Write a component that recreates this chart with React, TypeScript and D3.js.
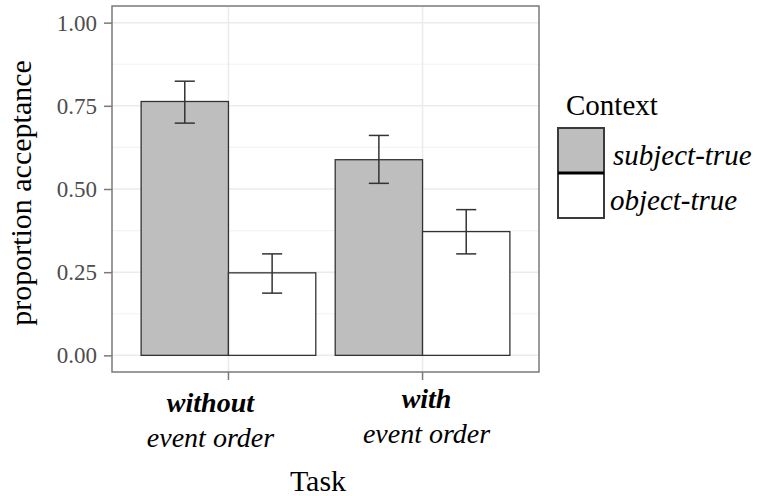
import { useEffect, useRef } from 'react';
import * as d3 from 'd3';

// chart data
const tasks = ['without', 'with'];
const taskSub = ['event order', 'event order'];
const contexts = ['subject-true', 'object-true'];
const acceptance = [
    [0.763, 0.248], // without: subject-true, object-true
    [0.588, 0.372], // with
];
const ciLow = [
    [0.698, 0.187],
    [0.517, 0.305],
];
const ciHigh = [
    [0.824, 0.305],
    [0.661, 0.438],
];
const yTicks = [0, 0.25, 0.5, 0.75, 1.0];
const yMinor = [0.125, 0.375, 0.625, 0.875];

const W = 757;
const H = 496;
const FONT = "'Liberation Serif', 'Times New Roman', serif";
const COLORS = {
    fill: ['#bebebe', '#ffffff'],
    stroke: '#333333',
    grid: '#ebebeb',
    border: '#7a7a7a',
    tick: '#4d4d4d',
    text: '#000000',
};

export default function App() {
    const svgRef = useRef<SVGSVGElement | null>(null);

    useEffect(() => {
        if (!svgRef.current) return;
        const svg = d3.select(svgRef.current);
        svg.selectAll('*').remove();

        const panel = { left: 112, right: 539, top: 6, bottom: 372 };

        const x = d3.scaleBand<string>()
            .domain(tasks)
            .range([panel.left, panel.right])
            .paddingInner(0)
            .paddingOuter(0.1);
        const groupW = x.bandwidth() * 0.9;
        const xSub = d3.scaleBand<string>().domain(contexts).range([0, groupW]);
        const y = d3.scaleLinear().domain([-0.05, 1.05]).range([panel.bottom, panel.top]);

        const g = svg.append('g');

        // panel background + grid
        g.append('rect')
            .attr('x', panel.left).attr('y', panel.top)
            .attr('width', panel.right - panel.left).attr('height', panel.bottom - panel.top)
            .attr('fill', '#fff');

        yMinor.forEach(v => {
            g.append('line')
                .attr('x1', panel.left).attr('x2', panel.right)
                .attr('y1', y(v)).attr('y2', y(v))
                .attr('stroke', '#f3f3f3').attr('stroke-width', 1.2);
        });
        yTicks.forEach(v => {
            g.append('line')
                .attr('x1', panel.left).attr('x2', panel.right)
                .attr('y1', y(v)).attr('y2', y(v))
                .attr('stroke', COLORS.grid).attr('stroke-width', 1.5);
        });
        tasks.forEach(t => {
            const cx = (x(t) as number) + x.bandwidth() / 2;
            g.append('line')
                .attr('x1', cx).attr('x2', cx)
                .attr('y1', panel.top).attr('y2', panel.bottom)
                .attr('stroke', COLORS.grid).attr('stroke-width', 1.5);
        });

        // bars
        tasks.forEach((t, i) => {
            const gx = (x(t) as number) + (x.bandwidth() - groupW) / 2;
            contexts.forEach((c, j) => {
                const bx = gx + (xSub(c) as number);
                g.append('rect')
                    .attr('x', bx).attr('y', y(acceptance[i][j]))
                    .attr('width', xSub.bandwidth())
                    .attr('height', y(0) - y(acceptance[i][j]))
                    .attr('fill', COLORS.fill[j])
                    .attr('stroke', COLORS.stroke)
                    .attr('stroke-width', 1.3);
            });
        });

        // error bars
        tasks.forEach((t, i) => {
            const gx = (x(t) as number) + (x.bandwidth() - groupW) / 2;
            contexts.forEach((c, j) => {
                const cx = gx + (xSub(c) as number) + xSub.bandwidth() / 2;
                const half = xSub.bandwidth() * 0.115;
                const eg = g.append('g')
                    .attr('stroke', COLORS.stroke)
                    .attr('stroke-width', 1.5);
                eg.append('line')
                    .attr('x1', cx).attr('x2', cx)
                    .attr('y1', y(ciLow[i][j])).attr('y2', y(ciHigh[i][j]));
                [ciLow[i][j], ciHigh[i][j]].forEach(v => {
                    eg.append('line')
                        .attr('x1', cx - half).attr('x2', cx + half)
                        .attr('y1', y(v)).attr('y2', y(v));
                });
            });
        });

        // panel border
        g.append('rect')
            .attr('x', panel.left).attr('y', panel.top)
            .attr('width', panel.right - panel.left).attr('height', panel.bottom - panel.top)
            .attr('fill', 'none')
            .attr('stroke', COLORS.border).attr('stroke-width', 1.5);

        // y axis
        const yAxis = g.append('g')
            .attr('transform', `translate(${panel.left},0)`)
            .call(d3.axisLeft(y).tickValues(yTicks).tickSize(8).tickPadding(7).tickFormat(d3.format('.2f')));
        yAxis.select('.domain').remove();
        yAxis.selectAll('line').attr('stroke', COLORS.border).attr('stroke-width', 1.5);
        yAxis.selectAll('text')
            .style('font-family', FONT).style('font-size', '23px')
            .attr('fill', COLORS.tick);

        // x axis ticks
        const xAxis = g.append('g')
            .attr('transform', `translate(0,${panel.bottom})`)
            .call(d3.axisBottom(x).tickSize(8).tickFormat(() => ''));
        xAxis.select('.domain').remove();
        xAxis.selectAll('line').attr('stroke', COLORS.border).attr('stroke-width', 1.5);

        // x tick labels (two lines)
        const labelShift = [-18, 4];
        const labelBase = [412, 408];
        tasks.forEach((t, i) => {
            const cx = (x(t) as number) + x.bandwidth() / 2 + labelShift[i];
            const txt = svg.append('text')
                .attr('text-anchor', 'middle')
                .style('font-family', FONT).style('font-size', '28px')
                .attr('fill', COLORS.text);
            txt.append('tspan')
                .attr('x', cx).attr('y', labelBase[i])
                .style('font-weight', 'bold').style('font-style', 'italic')
                .text(t);
            txt.append('tspan')
                .attr('x', cx).attr('y', labelBase[i] + 35)
                .style('font-style', 'italic')
                .text(taskSub[i]);
        });

        // axis titles
        svg.append('text')
            .attr('x', 318).attr('y', 491)
            .attr('text-anchor', 'middle')
            .style('font-family', FONT).style('font-size', '30px')
            .attr('fill', COLORS.text)
            .text('Task');

        svg.append('text')
            .attr('transform', 'rotate(-90)')
            .attr('x', -193).attr('y', 31)
            .attr('text-anchor', 'middle')
            .style('font-family', FONT).style('font-size', '30px')
            .attr('fill', COLORS.text)
            .text('proportion acceptance');

        // legend
        const lg = svg.append('g');
        lg.append('text')
            .attr('x', 566).attr('y', 115)
            .style('font-family', FONT).style('font-size', '29px')
            .attr('fill', COLORS.text)
            .text('Context');

        const keyX = 558, keyY = 128, keyW = 46, keyH = 45;
        const labelY = [165, 210];
        const labelX = [613, 610];
        contexts.forEach((c, j) => {
            lg.append('rect')
                .attr('x', keyX).attr('y', keyY + j * keyH)
                .attr('width', keyW).attr('height', keyH)
                .attr('fill', COLORS.fill[j])
                .attr('stroke', '#3a3a3a').attr('stroke-width', 2);
            lg.append('text')
                .attr('x', labelX[j]).attr('y', labelY[j])
                .style('font-family', FONT).style('font-size', '29px').style('font-style', 'italic')
                .attr('fill', COLORS.text)
                .text(c);
        });
        lg.append('line')
            .attr('x1', keyX).attr('x2', keyX + keyW)
            .attr('y1', keyY + keyH).attr('y2', keyY + keyH)
            .attr('stroke', '#000').attr('stroke-width', 3);
    }, []);

    return (
        <svg ref={svgRef} width={W} height={H}
            style={{ position: 'absolute', left: 0, top: 0, background: '#fff' }} />
    );
}
